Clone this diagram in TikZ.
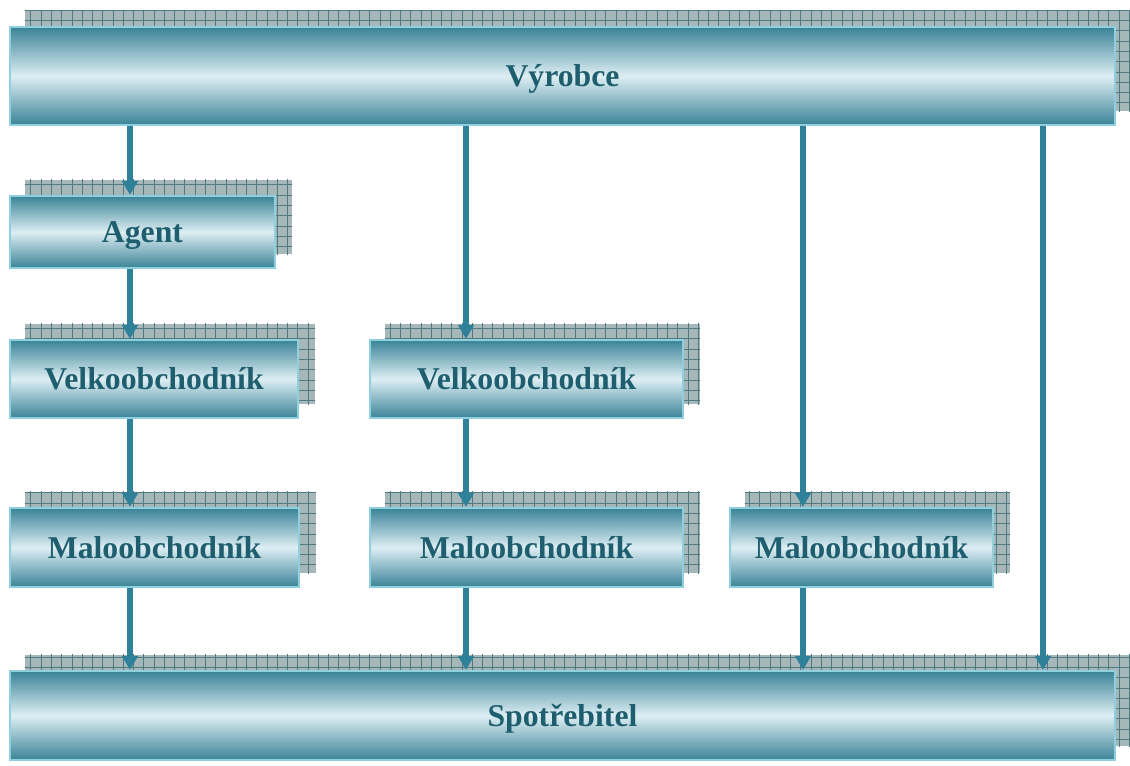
\documentclass[tikz,border=0pt]{standalone}
\usepackage{fontspec}
\setmainfont{Liberation Serif}
\usetikzlibrary{arrows.meta,backgrounds}
\definecolor{edge}{HTML}{8FD0DE}
\definecolor{deep}{HTML}{3A8397}
\definecolor{pale}{HTML}{DDEEF3}
\definecolor{ink}{HTML}{1E5E6E}
\definecolor{flow}{HTML}{2F8099}
\definecolor{hatchfill}{HTML}{A6B7BA}
\definecolor{hatchline}{HTML}{4F7A82}
\begin{document}
\begin{tikzpicture}[x=0.75pt,y=-0.75pt,
  stage/.style 2 args={rectangle, draw=edge, line width=1.6pt,
    top color=deep, bottom color=deep, middle color=pale,
    minimum width=#1*0.75pt, minimum height=#2*0.75pt, inner sep=0pt,
    text height=15.8pt, text depth=0pt,
    font=\fontsize{23.8}{28}\selectfont\bfseries, text=ink},
  flowarrow/.style={draw=flow, line width=3.8pt,
    -{Triangle[width=11.5pt,length=10.5pt]}}]
\useasboundingbox (0,0) rectangle (1130,765);

% channel members
\node[stage={1105}{98}] (V)  at (562.5,76)    {Výrobce};
\node[stage={265}{72}]  (A)  at (142.5,232)   {Agent};
\node[stage={288}{78}]  (B1) at (154,379)     {Velkoobchodník};
\node[stage={313}{78}]  (B2) at (526.5,379)   {Velkoobchodník};
\node[stage={289}{79}]  (M1) at (154.5,547.5) {Maloobchodník};
\node[stage={313}{79}]  (M2) at (526.5,547.5) {Maloobchodník};
\node[stage={263}{79}]  (M3) at (861.5,547.5) {Maloobchodník};
\node[stage={1105}{89}] (S)  at (562.5,715.5) {Spotřebitel};

% hatched drop shadows
\begin{scope}[on background layer]
\foreach \n in {V,A,B1,B2,M1,M2,M3,S}{
  \begin{scope}
    \clip ([shift={(16,-15)}]\n.south west) rectangle ([shift={(16,-15)}]\n.north east);
    \fill[hatchfill] ([shift={(16,-15)}]\n.south west) rectangle ([shift={(16,-15)}]\n.north east);
    \draw[hatchline, line width=0.55pt, step=7.7pt]
      ([shift={(0,20)}]\n.south west) grid ([shift={(40,-40)}]\n.north east);
  \end{scope}}
\end{scope}

% channel columns
\coordinate (c1) at (130,0);
\coordinate (c2) at (466,0);
\coordinate (c3) at (803,0);
\coordinate (c4) at (1043,0);

% flows
\draw[flowarrow] (V.south -| c1)  -- (A.north -| c1);
\draw[flowarrow] (A.south -| c1)  -- (B1.north -| c1);
\draw[flowarrow] (B1.south -| c1) -- (M1.north -| c1);
\draw[flowarrow] (M1.south -| c1) -- (S.north -| c1);
\draw[flowarrow] (V.south -| c2)  -- (B2.north -| c2);
\draw[flowarrow] (B2.south -| c2) -- (M2.north -| c2);
\draw[flowarrow] (M2.south -| c2) -- (S.north -| c2);
\draw[flowarrow] (V.south -| c3)  -- (M3.north -| c3);
\draw[flowarrow] (M3.south -| c3) -- (S.north -| c3);
\draw[flowarrow] (V.south -| c4)  -- (S.north -| c4);
\end{tikzpicture}
\end{document}
